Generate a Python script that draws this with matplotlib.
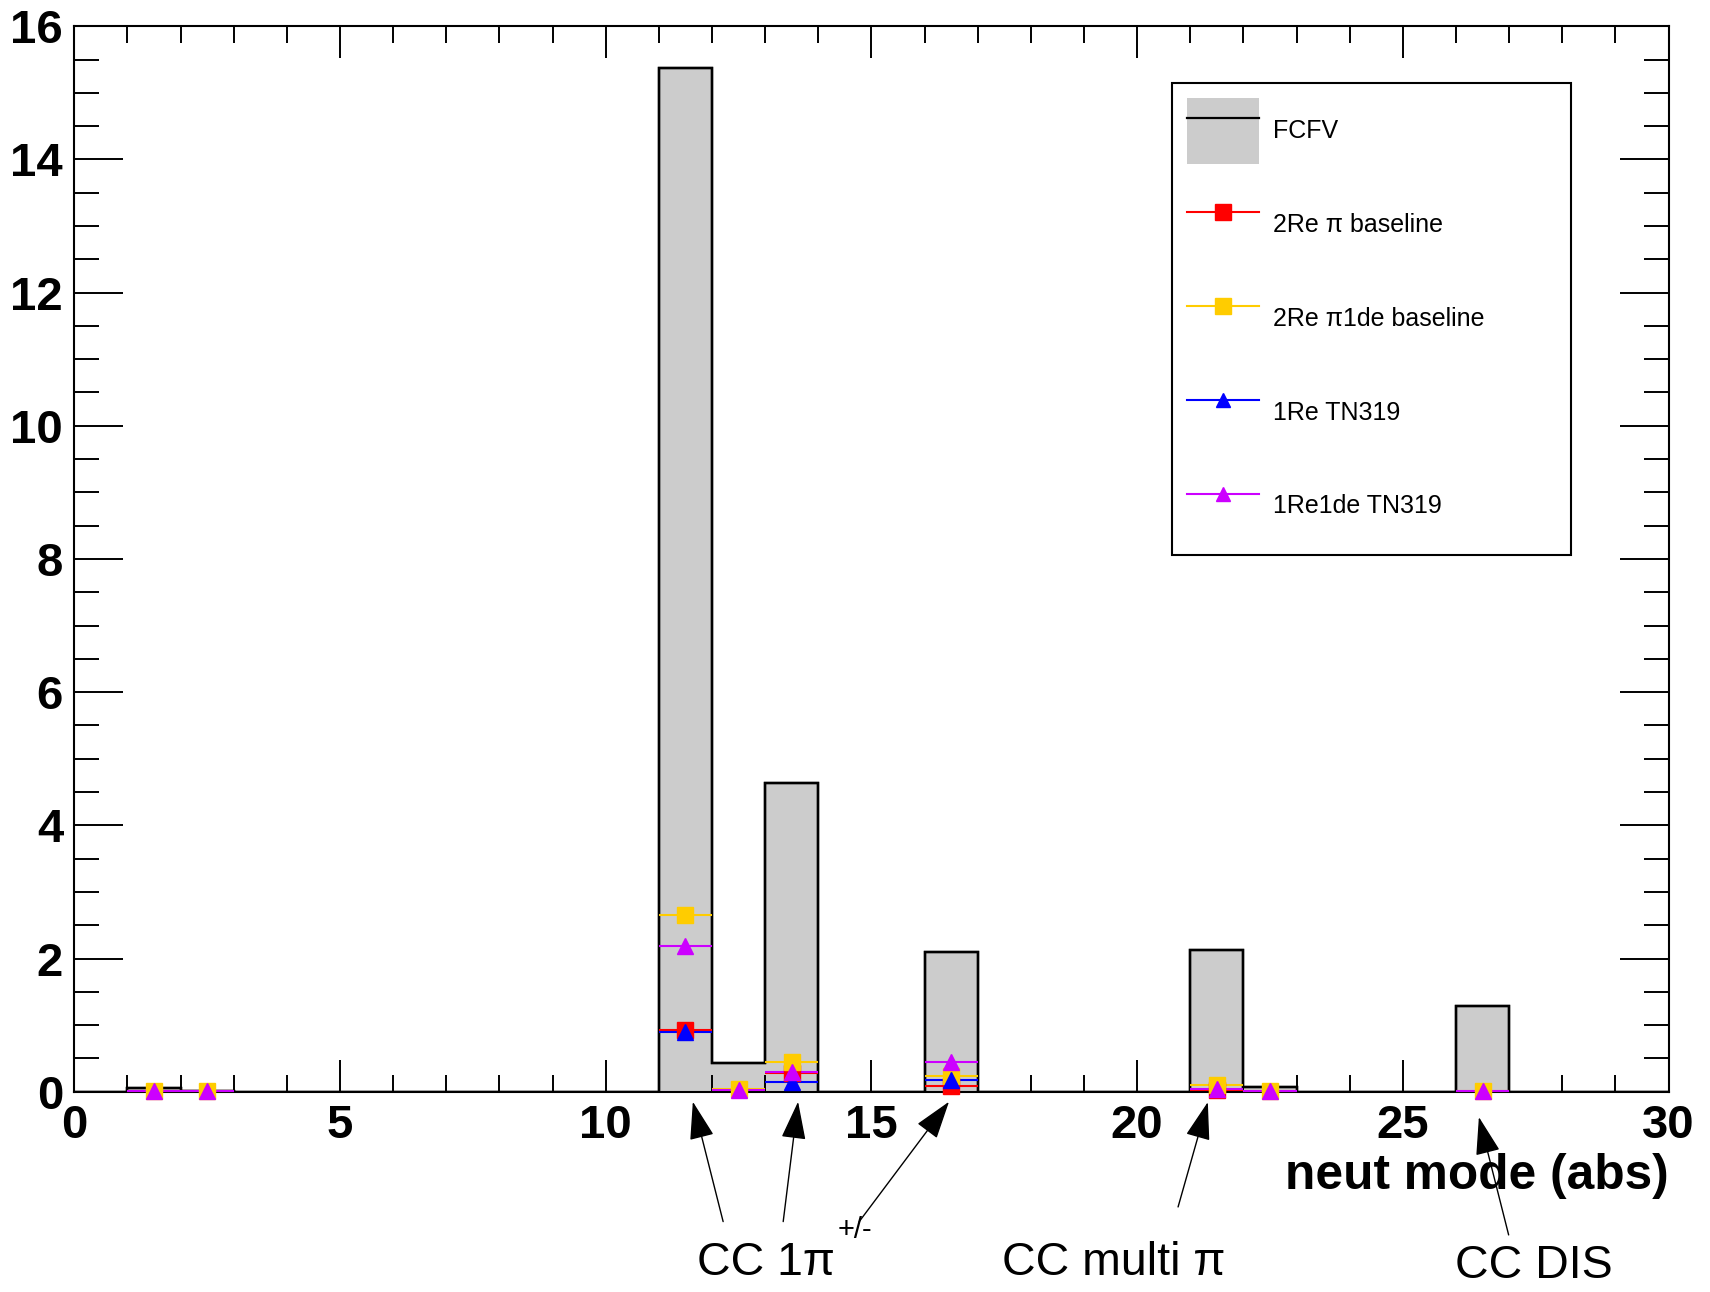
import numpy as np
import matplotlib
matplotlib.use("Agg")
import matplotlib.pyplot as plt
from matplotlib.patches import Patch
from matplotlib.lines import Line2D
from matplotlib.legend_handler import HandlerTuple
from matplotlib.ticker import MultipleLocator

plt.rcParams['font.family'] = ['Liberation Sans', 'DejaVu Sans']

# neut mode (abs) histogram, 30 unit bins from 0 to 30
bin_edges = np.arange(0, 31)
fcfv_counts = [0, 0.06, 0.01, 0, 0, 0, 0, 0, 0, 0,
               0, 15.38, 0.43, 4.63, 0, 0, 2.10, 0, 0, 0,
               0, 2.13, 0.065, 0, 0, 0, 1.29, 0, 0, 0]

# selection samples, only the filled bins (bin centres)
red_x = [11.5, 13.5, 16.5, 21.5]
red_y = [0.93, 0.28, 0.09, 0.02]
yel_x = [1.5, 2.5, 11.5, 12.5, 13.5, 16.5, 21.5, 22.5, 26.5]
yel_y = [0.01, 0.01, 2.65, 0.04, 0.45, 0.24, 0.10, 0.015, 0.01]
blu_x = [11.5, 13.5, 16.5]
blu_y = [0.90, 0.15, 0.175]
mag_x = [1.5, 2.5, 11.5, 12.5, 13.5, 16.5, 21.5, 22.5, 26.5]
mag_y = [0.01, 0.01, 2.19, 0.03, 0.30, 0.45, 0.04, 0.01, 0.01]

labels = ['FCFV', '2Re \u03c0 baseline', '2Re \u03c01de baseline', '1Re TN319', '1Re1de TN319']
colors = ['#ff0000', '#ffcc00', '#0000ff', '#cc00ff']
markers = ['s', 's', '^', '^']

fig = plt.figure(figsize=(17.1, 12.92), dpi=100)
ax = fig.add_axes([0.0434, 0.155, 0.9324, 0.8247])

ax.stairs(fcfv_counts, bin_edges, fill=True, facecolor='#cccccc',
          edgecolor='black', linewidth=1.7, zorder=1)
ax.stairs(fcfv_counts, bin_edges, fill=False, color='black', linewidth=1.7, zorder=1.5)

series = [(red_x, red_y), (yel_x, yel_y), (blu_x, blu_y), (mag_x, mag_y)]
for (xs, ys), c, m in zip(series, colors, markers):
    ms = 11 if m == 's' else 12
    ax.errorbar(xs, ys, xerr=0.5, fmt=m, color=c, ms=ms, elinewidth=1.5,
                capsize=0, zorder=3, clip_on=False)

ax.set_xlim(0, 30)
ax.set_ylim(0, 16)
ax.xaxis.set_major_locator(MultipleLocator(5))
ax.xaxis.set_minor_locator(MultipleLocator(1))
ax.yaxis.set_major_locator(MultipleLocator(2))
ax.yaxis.set_minor_locator(MultipleLocator(0.5))
ax.tick_params(which='both', direction='in', top=True, right=True, width=1.4)
ax.tick_params(axis='y', which='major', length=35, pad=8)
ax.tick_params(axis='y', which='minor', length=18)
ax.tick_params(axis='x', which='major', length=23, pad=9)
ax.tick_params(axis='x', which='minor', length=12)
for lab in ax.get_xticklabels() + ax.get_yticklabels():
    lab.set_fontsize(34)
    lab.set_fontweight('bold')
for sp in ax.spines.values():
    sp.set_linewidth(1.5)

ax.text(1.0, -0.0915, 'neut mode (abs)', transform=ax.transAxes, ha='right',
        va='baseline', fontsize=35.7, fontweight='bold')

# legend
handles = [(Patch(facecolor='#cccccc', edgecolor='none'), Line2D([], [], color='black', lw=1.6))]
for c, m in zip(colors, markers):
    handles.append(Line2D([], [], color=c, marker=m, ms=11 if m == 's' else 10, lw=1.5))
leg = ax.legend(handles, labels, loc='upper left',
                bbox_to_anchor=(0.6888, 0.5047, 0.2497, 0.4421), mode='expand',
                handler_map={tuple: HandlerTuple(ndivide=1)}, fontsize=18,
                handlelength=2.88, handleheight=3.68, handletextpad=0.56,
                labelspacing=1.12, borderpad=0.6, borderaxespad=0,
                fancybox=False, framealpha=1, edgecolor='black', numpoints=1)
leg.get_frame().set_linewidth(1.5)

# interaction channel annotations below the axis
arrow = dict(arrowstyle='-|>,head_length=1.2,head_width=0.39', color='black',
             lw=1.0, mutation_scale=20, shrinkA=0, shrinkB=0)
arrows = [((11.64, -0.15), (12.21, -1.95)),
          ((13.62, -0.15), (13.34, -1.95)),
          ((16.46, -0.15), (14.77, -1.95)),
          ((21.33, -0.155), (20.77, -1.73)),
          ((26.43, -0.38), (26.99, -2.15))]
for tip, tail in arrows:
    ax.annotate('', xy=tip, xytext=tail, arrowprops=arrow, annotation_clip=False)

ax.text(11.72, -2.754, 'CC 1\u03c0', ha='left', va='baseline', fontsize=33.5, clip_on=False)
ax.text(14.36, -2.20, '+/-', ha='left', va='baseline', fontsize=21, clip_on=False)
ax.text(19.55, -2.754, 'CC multi \u03c0', ha='center', va='baseline', fontsize=33.5, clip_on=False)
ax.text(27.47, -2.80, 'CC DIS', ha='center', va='baseline', fontsize=33.5, clip_on=False)

fig.savefig('out.png', dpi=100)
